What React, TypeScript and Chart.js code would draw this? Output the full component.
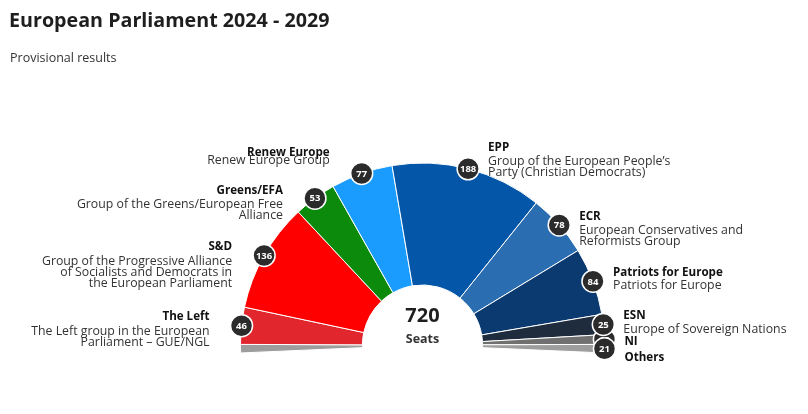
import { useEffect, useRef } from "react";
import { Chart, registerables } from "chart.js";

Chart.register(...registerables);

const TITLE = "European Parliament 2024 - 2029";
const SUBTITLE = "Provisional results";
const TOTAL_LABEL = "720";
const TOTAL_CAPTION = "Seats";

const groups = ["The Left", "S&D", "Greens/EFA", "Renew Europe", "EPP", "ECR", "Patriots for Europe", "ESN", "NI", "Others"];
const groupDescriptions = [
  ["The Left group in the European", "Parliament – GUE/NGL"],
  ["Group of the Progressive Alliance", "of Socialists and Democrats in", "the European Parliament"],
  ["Group of the Greens/European Free", "Alliance"],
  ["Renew Europe Group"],
  ["Group of the European People’s", "Party (Christian Democrats)"],
  ["European Conservatives and", "Reformists Group"],
  ["Patriots for Europe"],
  ["Europe of Sovereign Nations"],
  [],
  [],
];
const seats = [46, 136, 53, 77, 188, 78, 84, 25, 12, 21];

// styles
const groupColors = ["#e2262e", "#ff0000", "#0b8a0b", "#1a9cff", "#0356a8", "#2a6db1", "#0b3a71", "#1f2c3d", "#707070", "#9d9d9d"];
const labelSide = ["left", "left", "left", "left", "right", "right", "right", "right", "right", "right"];
const nameDy = [-10, -10, -9, -22, -22, -9, -10, -10, 1, 8];
const subGap = [15, 15, 14, 8, 14, 14, 13, 14, 14, 14];
const badgeOrder = [8, 0, 1, 2, 3, 4, 5, 6, 7, 9];
const FONT = "'Open Sans', 'Noto Sans', sans-serif";

export default function App() {
  const ref = useRef<HTMLCanvasElement | null>(null);

  useEffect(() => {
    if (!ref.current) return;
    const othersIdx = seats.length - 1;
    const half = seats[othersIdx] / 2;
    // Others is drawn split across both ends of the hemicycle
    const values = [half, ...seats.slice(0, othersIdx), half];
    const colors = [groupColors[othersIdx], ...groupColors];
    const elementFor = (i: number) => i + 1;

    const overlay = {
      id: "overlay",
      afterDraw(chart: any) {
        const ctx = chart.ctx as CanvasRenderingContext2D;
        const meta = chart.getDatasetMeta(0);
        ctx.save();
        // title
        ctx.textBaseline = "middle";
        ctx.textAlign = "left";
        ctx.fillStyle = "#1e1e1e";
        ctx.font = `bold 19.7px ${FONT}`;
        ctx.fillText(TITLE, 9, 21.5);
        ctx.fillStyle = "#333";
        ctx.font = `12.5px ${FONT}`;
        ctx.fillText(SUBTITLE, 10, 58);

        const first = meta.data[1].getProps(["x", "y"], true);
        ctx.textAlign = "center";
        ctx.fillStyle = "#1e1e1e";
        ctx.font = `bold 20px ${FONT}`;
        ctx.fillText(TOTAL_LABEL, first.x, first.y - 29);
        ctx.font = `bold 12.5px ${FONT}`;
        ctx.fillStyle = "#333";
        ctx.fillText(TOTAL_CAPTION, first.x, first.y - 6);

        const pos = groups.map((_, i) => {
          const a = meta.data[elementFor(i)].getProps(["x", "y", "startAngle", "endAngle", "outerRadius"], true);
          const mid = (a.startAngle + a.endAngle) / 2;
          return { x: a.x + Math.cos(mid) * a.outerRadius, y: a.y + Math.sin(mid) * a.outerRadius };
        });

        // labels
        groups.forEach((g, i) => {
          const p = pos[i];
          const left = labelSide[i] === "left";
          const tx = left ? p.x - 32 : p.x + 20;
          ctx.textAlign = left ? "right" : "left";
          ctx.textBaseline = "middle";
          const ty = p.y + nameDy[i] + 1;
          ctx.fillStyle = "#111";
          ctx.font = `bold 11.6px ${FONT}`;
          ctx.fillText(g, tx, ty);
          ctx.fillStyle = "#333";
          ctx.font = `12.3px ${FONT}`;
          groupDescriptions[i].forEach((line, j) => {
            const ly = ty + subGap[i] + j * 11;
            ctx.fillText(line, tx, ly);
          });
        });

        // badges
        badgeOrder.forEach((i) => {
          const p = pos[i];
          ctx.beginPath();
          ctx.arc(p.x, p.y, 11, 0, Math.PI * 2);
          ctx.fillStyle = "#2b2b2b";
          ctx.fill();
          ctx.lineWidth = 1.5;
          ctx.strokeStyle = "#ffffff";
          ctx.stroke();
          ctx.fillStyle = "#ffffff";
          ctx.font = `bold 9.5px ${FONT}`;
          ctx.textAlign = "center";
          ctx.textBaseline = "middle";
          ctx.fillText(String(seats[i]), p.x, p.y + 0.5);
        });
        ctx.restore();
      },
    };

    const chart = new Chart(ref.current, {
      type: "doughnut",
      data: {
        labels: ["Others", ...groups],
        datasets: [
          {
            data: values,
            backgroundColor: colors,
            borderColor: "#ffffff",
            borderWidth: 1,
          },
        ],
      },
      options: {
        responsive: false,
        animation: false,
        events: [],
        rotation: -92.5,
        circumference: 185,
        cutout: "33%",
        radius: 182,
        layout: { padding: { left: 237, right: 200, top: 160, bottom: 58 } },
        plugins: { legend: { display: false }, tooltip: { enabled: false }, title: { display: false } },
      } as any,
      plugins: [overlay],
    });
    return () => chart.destroy();
  }, []);

  return (
    <div style={{ position: "absolute", left: 0, top: 0, width: 808, height: 414, background: "#fff" }}>
      <canvas ref={ref} width={808} height={414} style={{ display: "block", width: 808, height: 414 }} />
    </div>
  );
}
